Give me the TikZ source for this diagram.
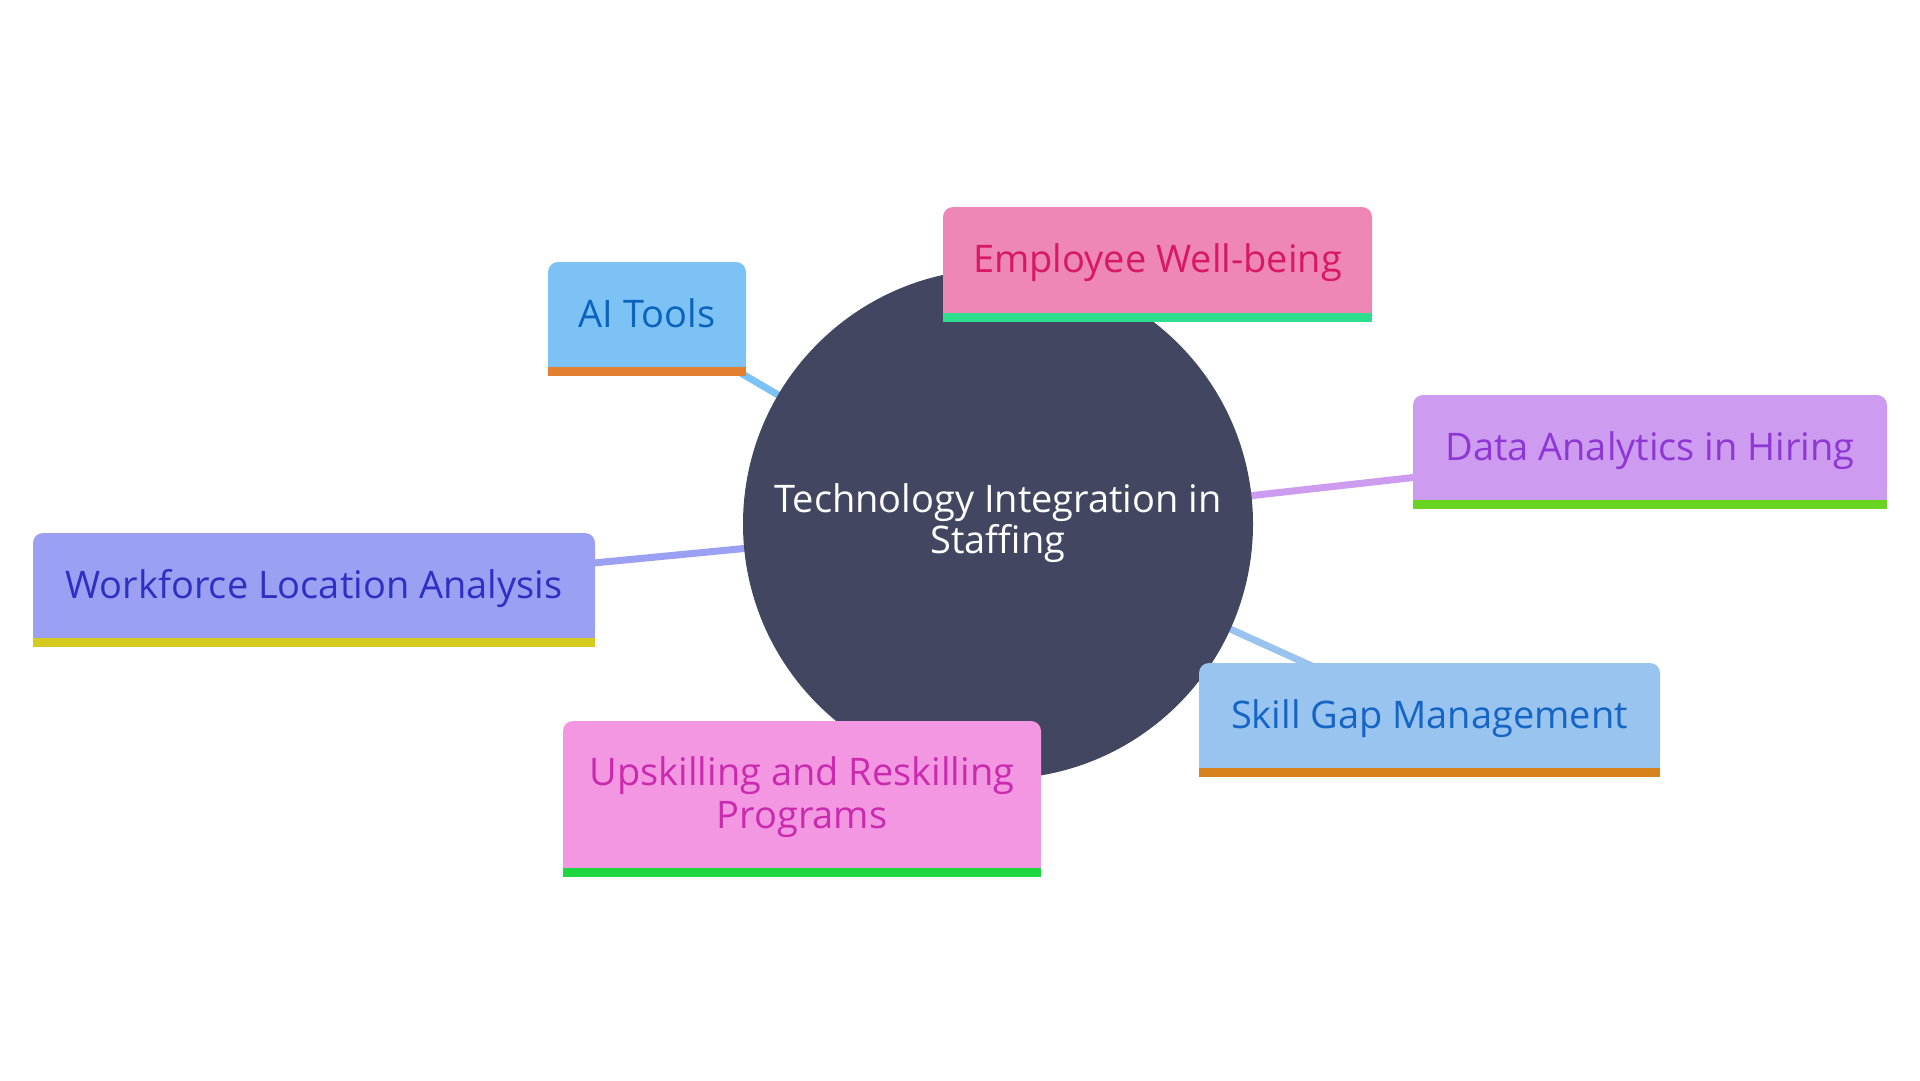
\documentclass[tikz,border=0pt]{standalone}
\usepackage{fontspec}
\setmainfont{Open Sans}
\definecolor{hub}{HTML}{424660}
\definecolor{aifill}{HTML}{7DC2F4}\definecolor{aitext}{HTML}{0A63BD}\definecolor{aibar}{HTML}{E57F30}
\definecolor{empfill}{HTML}{EE86B6}\definecolor{emptext}{HTML}{D71864}\definecolor{empbar}{HTML}{2EDE8F}
\definecolor{datafill}{HTML}{CD9CF1}\definecolor{datatext}{HTML}{8E37D4}\definecolor{databar}{HTML}{69D421}
\definecolor{wffill}{HTML}{9BA0F2}\definecolor{wftext}{HTML}{2F2FC4}\definecolor{wfbar}{HTML}{D5CB1F}
\definecolor{skfill}{HTML}{9AC4F0}\definecolor{sktext}{HTML}{1565C4}\definecolor{skbar}{HTML}{D7821F}
\definecolor{upfill}{HTML}{F497E3}\definecolor{uptext}{HTML}{C92AAE}\definecolor{upbar}{HTML}{1DD640}
\tikzset{
  box/.style={rectangle, rounded corners=10pt, inner sep=0pt, align=center,
    text height=34pt, text depth=9pt,
    font=\fontsize{38}{43}\selectfont},
  link/.style={line width=7pt},
}
\newcommand{\boxbar}[3]{%
  \fill[#2] ([yshift=12pt]#1.south west) rectangle (#1.south east);
  \fill[#3] (#1.south west) rectangle ([yshift=-8.5pt]#1.south east);}
\begin{document}
\begin{tikzpicture}[x=1pt,y=-1pt]
\useasboundingbox[fill=white] (0,0) rectangle (1920,1080);
% hub
\coordinate (c) at (998,524);
% connectors (drawn first, under everything)
\coordinate (aic) at (647,318);
\coordinate (empc) at (1157,260);
\coordinate (datac) at (1650,451);
\coordinate (wfc) at (314,590);
\coordinate (skc) at (1429,719);
\coordinate (upc) at (802,799);
\draw[link, aifill] (aic) -- (c);
\draw[link, empfill] (empc) -- (c);
\draw[link, datafill] (datac) -- (c);
\draw[link, wffill] (wfc) -- (c);
\draw[link, skfill] (skc) -- (c);
\draw[link, upfill] (upc) -- (c);
% hub circle
\node[circle, fill=hub, minimum size=510pt, inner sep=0pt] (hubc) at (c) {};
\node[align=center, text=white, font=\fontsize{38}{41}\selectfont] (hubt) at (998,523) {Technology Integration in\\Staffing};
% boxes
\node[box, fill=aifill, text=aitext, minimum width=198pt, minimum height=105pt] (ai) at (647,314.5) {AI Tools};
\boxbar{ai}{aifill}{aibar}
\node[box, fill=empfill, text=emptext, minimum width=429pt, minimum height=106pt] (emp) at (1157.5,260) {Employee Well-being};
\boxbar{emp}{empfill}{empbar}
\node[box, fill=datafill, text=datatext, minimum width=474pt, minimum height=105pt] (data) at (1650,447.5) {Data Analytics in Hiring};
\boxbar{data}{datafill}{databar}
\node[box, fill=wffill, text=wftext, minimum width=562pt, minimum height=105pt] (wf) at (314,585.5) {Workforce Location Analysis};
\boxbar{wf}{wffill}{wfbar}
\node[box, fill=skfill, text=sktext, minimum width=461pt, minimum height=105pt] (sk) at (1429.5,715.5) {Skill Gap Management};
\boxbar{sk}{skfill}{skbar}
\node[rectangle, rounded corners=10pt, inner sep=0pt, fill=upfill, minimum width=478pt, minimum height=147pt] (up) at (802,794.5) {};
\boxbar{up}{upfill}{upbar}
\node[align=center, text=uptext, font=\fontsize{38}{43}\selectfont] (upt) at ([yshift=-2.5pt]up.center) {Upskilling and Reskilling\\Programs};
\end{tikzpicture}
\end{document}
